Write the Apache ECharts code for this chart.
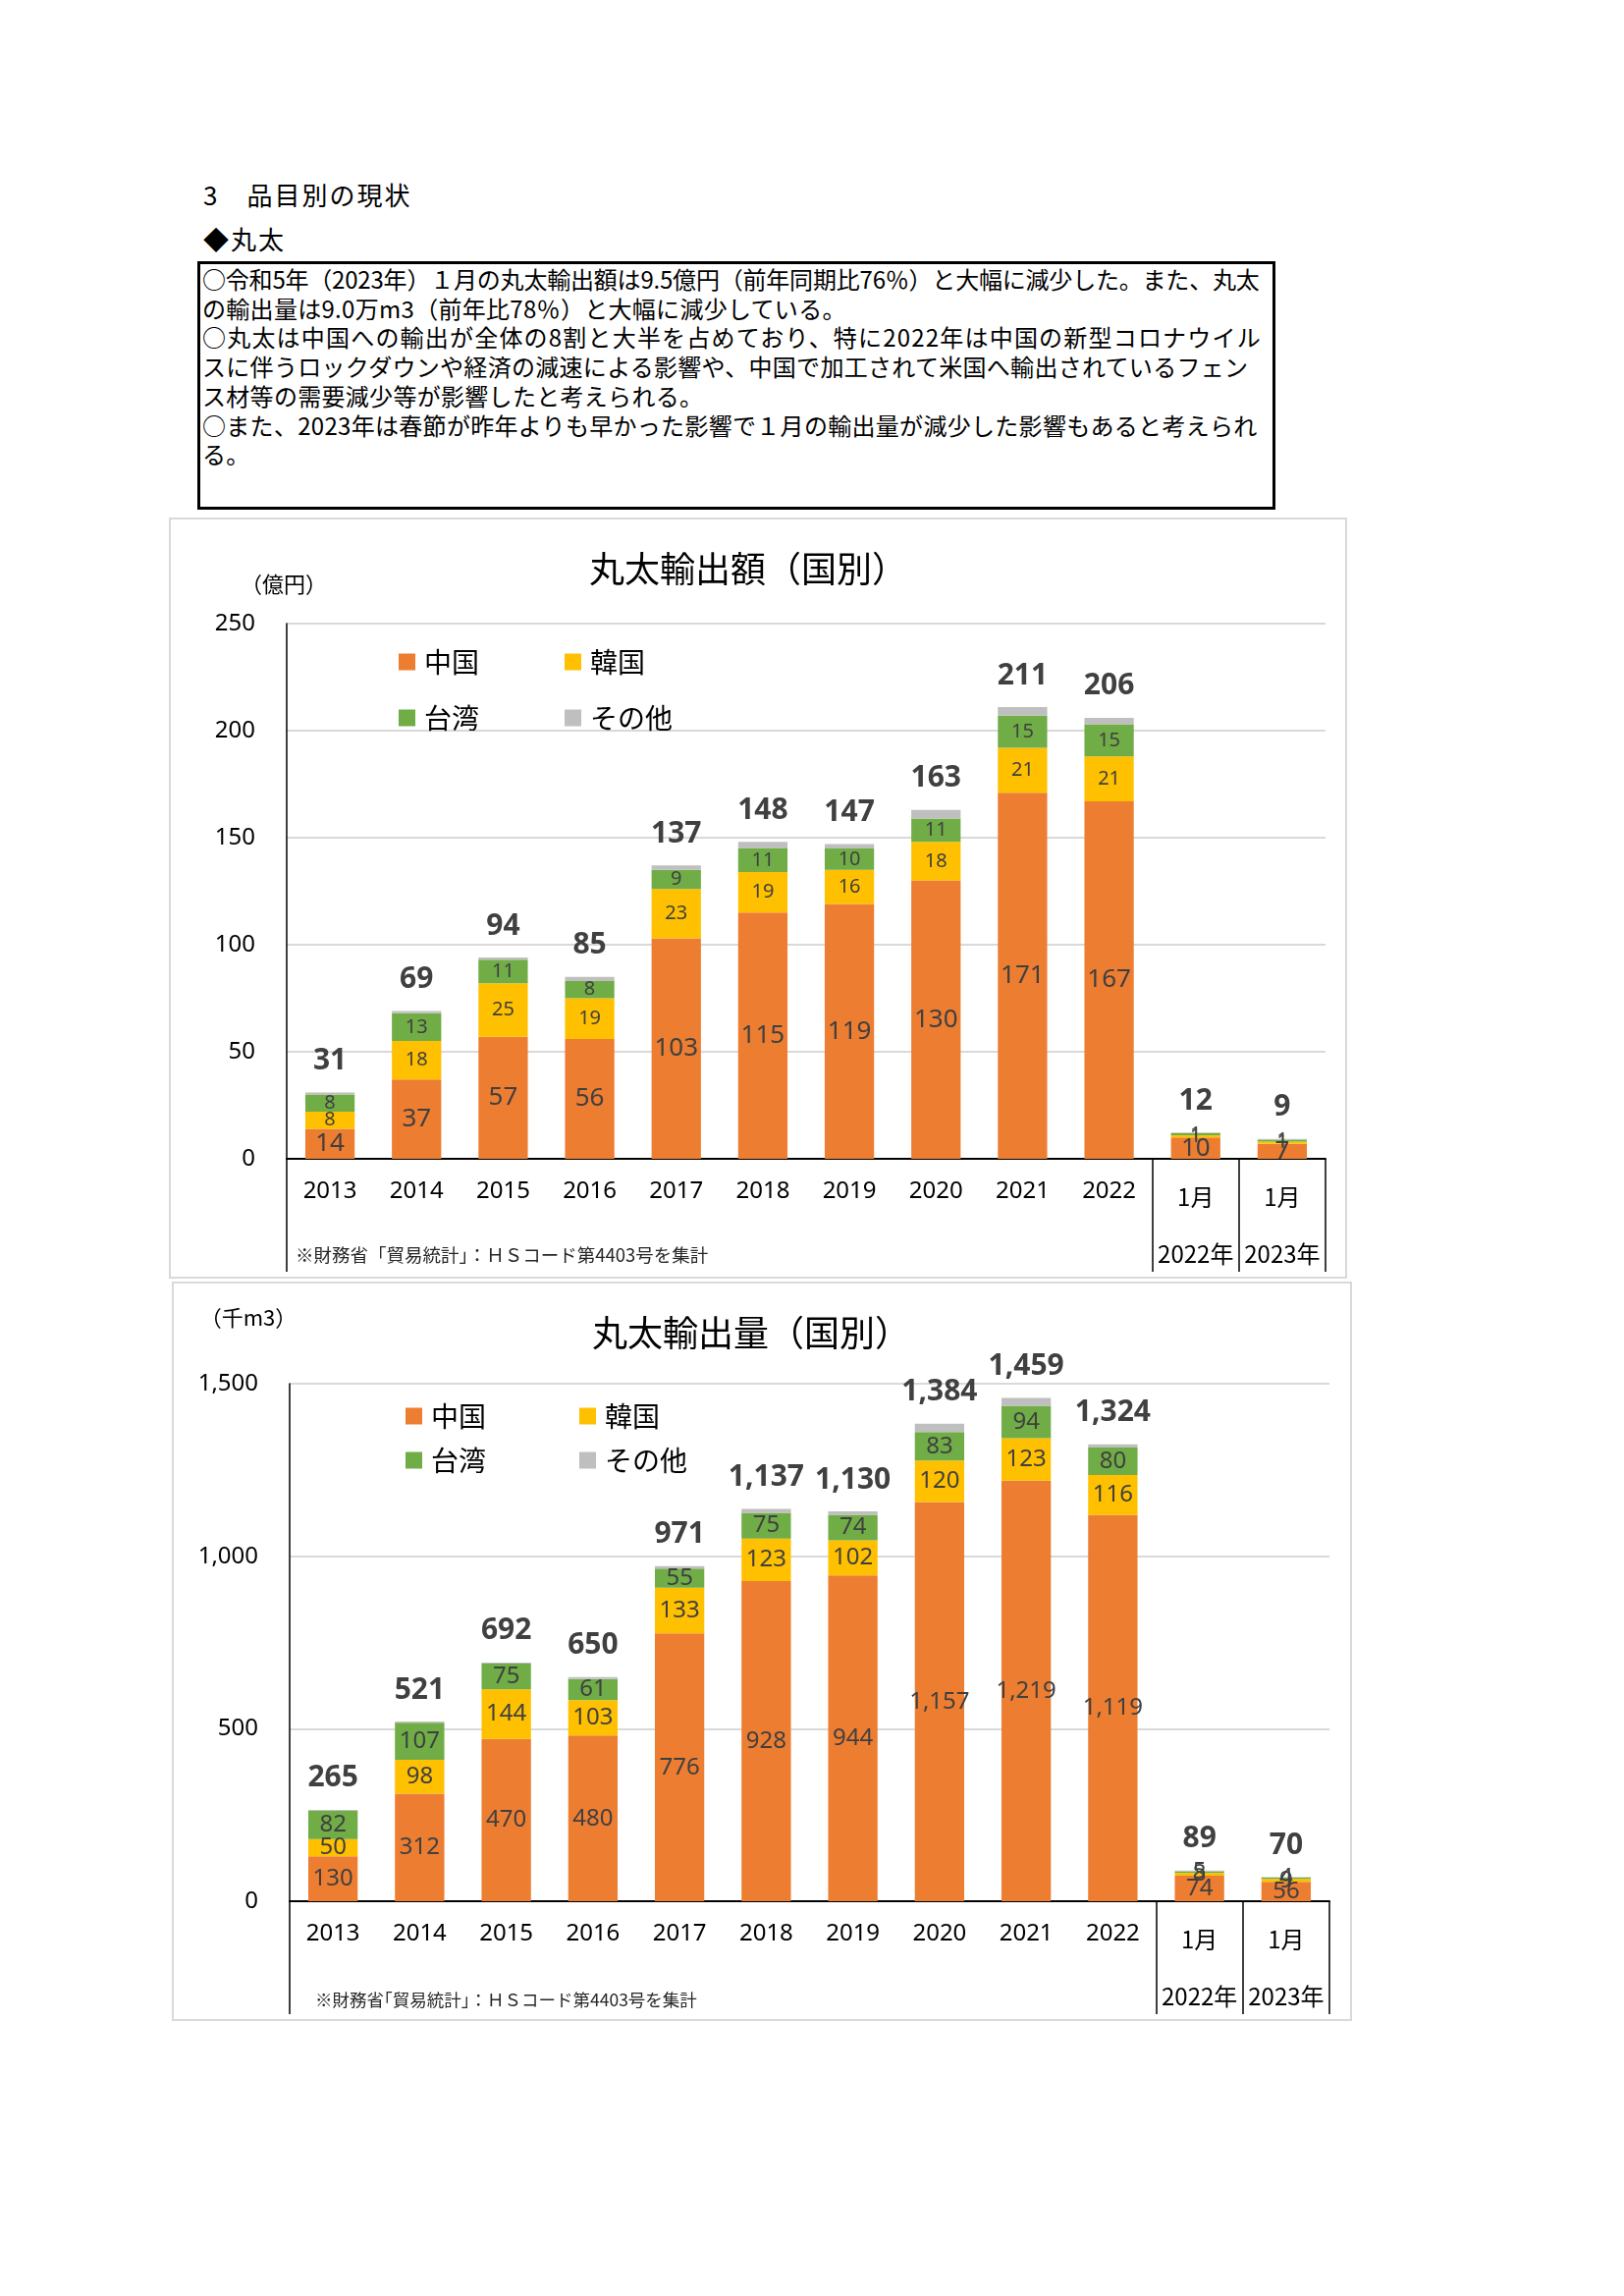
<!DOCTYPE html>
<html><head><meta charset="utf-8">
<script src="https://cdn.jsdelivr.net/npm/echarts/dist/echarts.min.js"></script>
<style>
html,body{margin:0;padding:0;background:#fff;}
body{width:1654px;height:2338px;position:relative;font-family:"Noto Sans CJK JP",sans-serif;color:#000;overflow:hidden}
.h{position:absolute;left:207px;font-size:26px;line-height:30px;letter-spacing:2px;white-space:pre}
#box{position:absolute;left:201px;top:266px;width:1092px;height:247px;border:3px solid #000;}
#box div{font-size:24px;line-height:29.7px;white-space:pre;padding-left:2px;letter-spacing:0.3px}
.chart{position:absolute}
</style></head>
<body>
<div class="h" style="top:183px">3　品目別の現状</div>
<div class="h" style="top:228px">◆丸太</div>
<div id="box">
<div style="letter-spacing:-0.2px">○令和5年（2023年）１月の丸太輸出額は9.5億円（前年同期比76％）と大幅に減少した。また、丸太</div>
<div>の輸出量は9.0万m3（前年比78％）と大幅に減少している。</div>
<div style="letter-spacing:1.2px">○丸太は中国への輸出が全体の8割と大半を占めており、特に2022年は中国の新型コロナウイル</div>
<div>スに伴うロックダウンや経済の減速による影響や、中国で加工されて米国へ輸出されているフェン</div>
<div>ス材等の需要減少等が影響したと考えられる。</div>
<div>○また、2023年は春節が昨年よりも早かった影響で１月の輸出量が減少した影響もあると考えられ</div>
<div>る。</div>
</div>
<div id="c1" class="chart" style="left:172px;top:527px;width:1200px;height:775px"></div>
<div id="c2" class="chart" style="left:175px;top:1305px;width:1202px;height:753px"></div>
<script>
// ---- data ----
const categories = ['2013','2014','2015','2016','2017','2018','2019','2020','2021','2022','1月','1月'];
const groupLabels = ['','','','','','','','','','','2022年','2023年'];
const seriesNames = ['中国','韓国','台湾','その他'];

// 輸出額（億円）
const valueChina  = [14, 37, 57, 56, 103, 115, 119, 130, 171, 167, 10, 7];
const valueKorea  = [8, 18, 25, 19, 23, 19, 16, 18, 21, 21, 1, 1];
const valueTaiwan = [8, 13, 11, 8, 9, 11, 10, 11, 15, 15, 1, 1];
const valueOther  = [1, 1, 1, 2, 2, 3, 2, 4, 4, 3, 0.3, 0.3];
const valueTotal  = [31, 69, 94, 85, 137, 148, 147, 163, 211, 206, 12, 9];
const valueTicks  = [0, 50, 100, 150, 200, 250];

// 輸出量（千m3）
const volumeChina  = [130, 312, 470, 480, 776, 928, 944, 1157, 1219, 1119, 74, 56];
const volumeKorea  = [50, 98, 144, 103, 133, 123, 102, 120, 123, 116, 8, 9];
const volumeTaiwan = [82, 107, 75, 61, 55, 75, 74, 83, 94, 80, 5, 4];
const volumeOther  = [3, 4, 3, 6, 7, 11, 10, 24, 23, 9, 2, 1];
const volumeTotal  = [265, 521, 692, 650, 971, 1137, 1130, 1384, 1459, 1324, 89, 70];
const volumeTicks  = [0, 500, 1000, 1500];

// ---- styles ----
const colors = ['#ED7D31', '#FFC000', '#70AD47', '#BFBFBF'];
const NUM = '"Noto Sans", "Noto Sans CJK JP", sans-serif';
const JP = '"Noto Sans CJK JP", sans-serif';
const fmt = v => Math.round(v).toLocaleString('en-US');

function makeOption(c) {
  const segs = [c.china, c.korea, c.taiwan, c.other];
  const series = segs.map((d, i) => ({
    name: seriesNames[i], type: 'bar', stack: 'total', data: d, barWidth: '57%',
    itemStyle: { color: colors[i] },
    emphasis: { disabled: true },
    label: i === 3
      ? { show: true, position: 'top', distance: 17, formatter: p => fmt(c.total[p.dataIndex]),
          color: '#404040', fontSize: c.totalFont, fontWeight: 'bold', fontFamily: NUM }
      : { show: true, position: 'inside', formatter: p => fmt(p.value),
          color: '#404040', fontSize: i === 0 ? c.chinaFont : c.segFont, fontFamily: NUM }
  }));
  const ticks = c.ticks;
  const legendBase = {
    orient: 'horizontal', left: c.legX, itemGap: c.legGap, itemWidth: 17, itemHeight: 17,
    icon: 'rect', padding: 0, selectedMode: false,
    textStyle: { fontSize: 28, fontFamily: JP, color: '#000', padding: [0, 0, 0, 4] }
  };
  return {
    animation: false,
    backgroundColor: '#fff',
    grid: { left: 120, right: c.gridRight, top: c.gridTop, bottom: 122, outerBoundsMode: 'none' },
    legend: [
      Object.assign({}, legendBase, { data: [seriesNames[0], seriesNames[1]], top: c.legY1 }),
      Object.assign({}, legendBase, { data: [seriesNames[2], seriesNames[3]], top: c.legY2 })
    ],
    xAxis: {
      type: 'category', data: categories,
      axisLine: { show: true, lineStyle: { color: '#000', width: 2 } },
      axisTick: { show: true, interval: i => i === 0 || i >= 10, length: 115, lineStyle: { color: '#000', width: 1.5 } },
      axisLabel: {
        interval: 0, margin: 15, color: '#000', fontFamily: NUM,
        formatter: (v, i) => groupLabels[i] ? '{m|' + v + '}\n{g|' + groupLabels[i] + '}' : '{a|' + v + '}',
        rich: {
          a: { fontSize: 24, lineHeight: 36, fontFamily: NUM, color: '#000' },
          m: { fontSize: 24, lineHeight: 48, fontFamily: JP, color: '#000' },
          g: { fontSize: 24, lineHeight: 68, fontFamily: JP, color: '#000' }
        }
      },
      splitLine: { show: false }
    },
    yAxis: {
      type: 'value', min: ticks[0], max: ticks[ticks.length - 1], interval: ticks[1] - ticks[0],
      axisLine: { show: true, lineStyle: { color: '#000', width: 1.5 } },
      axisTick: { show: false },
      axisLabel: { margin: 32, fontSize: 24, color: '#000', fontFamily: NUM, formatter: v => fmt(v) },
      splitLine: { show: true, lineStyle: { color: '#D9D9D9', width: 2 } }
    },
    graphic: [
      { type: 'rect', shape: { x: 1, y: 1, width: c.W - 2, height: c.H - 2 }, style: { fill: null, stroke: '#D9D9D9', lineWidth: 2 }, silent: true, z: -10 },
      { type: 'text', x: c.titleX, y: c.titleY, style: { text: c.title, fontSize: 36, fontFamily: JP, fill: '#000', align: 'center', verticalAlign: 'middle' } },
      { type: 'text', x: c.unitX, y: c.unitY, style: { text: c.unit, fontSize: 22, fontFamily: JP, fill: '#000', align: 'center', verticalAlign: 'middle' } },
      { type: 'text', x: c.noteX, y: c.noteY, style: { text: c.note, fontSize: c.noteFont, fontFamily: JP, fill: '#262626', align: 'left', verticalAlign: 'middle' } }
    ],
    series: series
  };
}

const chart1 = echarts.init(document.getElementById('c1'));
chart1.setOption(makeOption({
  W: 1200, H: 775, gridRight: 22, gridTop: 108,
  china: valueChina, korea: valueKorea, taiwan: valueTaiwan, other: valueOther, total: valueTotal, ticks: valueTicks,
  totalFont: 30, chinaFont: 26, segFont: 20,
  legX: 234, legGap: 87, legY1: 133, legY2: 190,
  title: '丸太輸出額（国別）', titleX: 590, titleY: 52,
  unit: '（億円）', unitX: 117, unitY: 68,
  note: '※財務省「貿易統計」：ＨＳコード第4403号を集計', noteX: 129, noteY: 751, noteFont: 18.5
}));

const chart2 = echarts.init(document.getElementById('c2'));
chart2.setOption(makeOption({
  W: 1202, H: 753, gridRight: 23, gridTop: 104,
  china: volumeChina, korea: volumeKorea, taiwan: volumeTaiwan, other: volumeOther, total: volumeTotal, ticks: volumeTicks,
  totalFont: 30, chinaFont: 24, segFont: 24,
  legX: 238, legGap: 95, legY1: 123, legY2: 168,
  title: '丸太輸出量（国別）', titleX: 590, titleY: 52,
  unit: '（千m3）', unitX: 78, unitY: 37,
  note: '※財務省｢貿易統計｣：ＨＳコード第4403号を集計', noteX: 146, noteY: 731, noteFont: 17.5
}));
</script>
</body></html>
